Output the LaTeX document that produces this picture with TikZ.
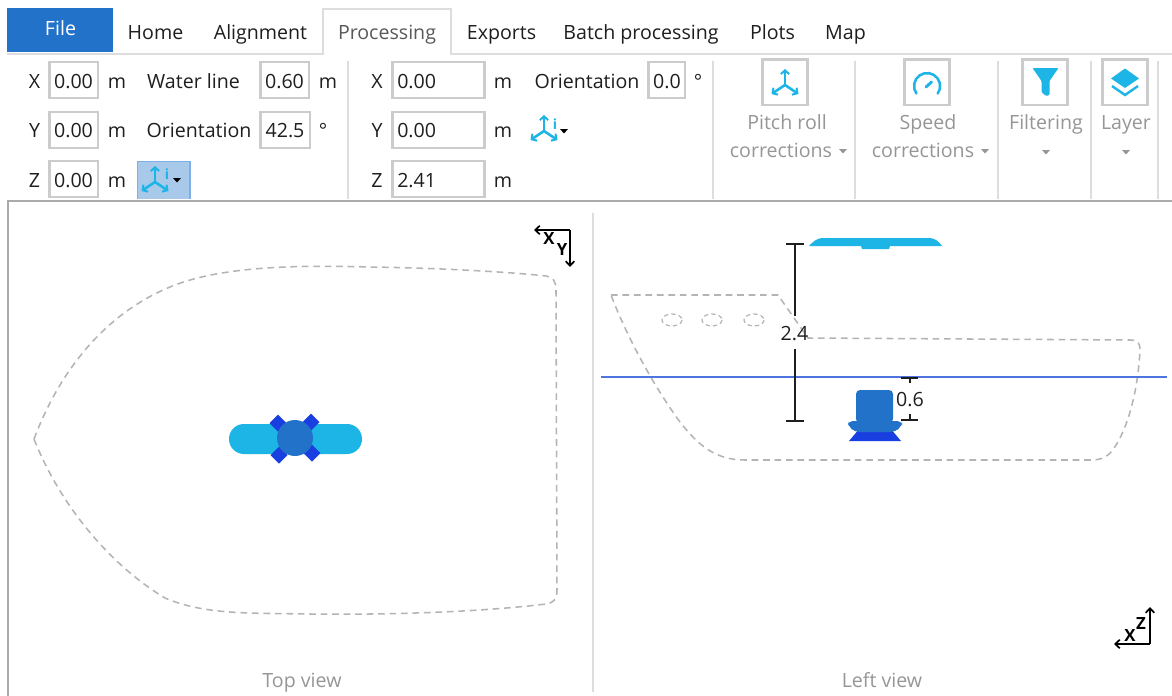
\documentclass[tikz,border=0pt]{standalone}
\usepackage{fontspec}
\setmainfont{Open Sans}
\usetikzlibrary{arrows.meta}
\definecolor{fileblue}{HTML}{2272CA}
\definecolor{cyanblue}{HTML}{1CB5E6}
\definecolor{deepblue}{HTML}{1A3FE0}
\definecolor{waterblue}{HTML}{4F74E0}
\definecolor{boxgray}{HTML}{CCCCCC}
\definecolor{sepgray}{HTML}{DDDDDD}
\definecolor{framegray}{HTML}{ABABAB}
\definecolor{hullgray}{HTML}{B4B4B4}
\definecolor{mutedtext}{HTML}{969696}
\definecolor{darktext}{HTML}{1E1E1E}
\definecolor{btnfill}{HTML}{A9C9EB}
\definecolor{btnedge}{HTML}{7FB0E5}
\tikzset{
  lbl/.style={anchor=base,inner sep=0pt,text=darktext,font=\fontsize{14.7}{17}\selectfont},
  lblw/.style={lbl,anchor=base west},
  muted/.style={lbl,text=mutedtext},
  tab/.style={lbl,text=darktext},
  inbox/.style={draw=boxgray,line width=1.8pt,fill=white},
  sep/.style={draw=sepgray,line width=1.5pt},
  hull/.style={draw=hullgray,line width=1.15pt,dash pattern=on 5pt off 3.6pt},
  dim/.style={draw=darktext,line width=1.5pt},
  axisarrow/.style={draw=black,line width=1.35pt,-{Straight Barb[length=3.4pt,width=6.4pt,line width=1.3pt]}},
  axislbl/.style={anchor=center,inner sep=0pt,font=\fontsize{12.6}{15}\selectfont\bfseries,text=black},
  iconarrow/.style={draw=cyanblue,line width=1.9pt,-{Straight Barb[length=2.8pt,width=6.2pt,line width=1.5pt]}},
  iconi/.style={anchor=center,inner sep=0pt,text=cyanblue,font=\fontsize{10.5}{11}\selectfont\bfseries}
}
\newcommand{\triaxis}[2]{%
  \draw[iconarrow] (#1,#2) -- (#1,#2-16);
  \draw[iconarrow] (#1,#2) -- (#1-13.5,#2+9);
  \draw[iconarrow] (#1,#2) -- (#1+13.5,#2+9);
}
\newcommand{\droparrow}[3]{%
  \fill[#3] (#1-4,#2-2) -- (#1+4,#2-2) -- (#1,#2+2.5) -- cycle;
}
\begin{document}
\begin{tikzpicture}[x=0.75pt,y=-0.75pt]
\useasboundingbox (0,0) rectangle (1172,696);
\fill[white] (0,0) rectangle (1172,696);
% tab strip
\draw[sepgray,line width=1.5pt] (7,53.5) -- (323,53.5) -- (323,9) -- (451,9) -- (451,53.5) -- (1172,53.5);
\fill[fileblue] (7,8) rectangle (113,52);
\node[lbl,text=white] (tfile) at (60.5,36) {File};
\node[tab] (thome) at (155.5,39.5) {Home};
\node[tab] (talign) at (260.5,39.5) {Alignment};
\node[tab,text=black!65] (tproc) at (387,39.5) {Processing};
\node[tab] (texp) at (501.5,39.5) {Exports};
\node[tab] (tbatch) at (641,39.5) {Batch processing};
\node[tab] (tplots) at (772.5,39.5) {Plots};
\node[tab] (tmap) at (845.5,39.5) {Map};
% separators
\foreach \sx in {348,713,855,998,1091,1158}{\draw[sep] (\sx,61) -- (\sx,199);}
% first group
\foreach \by/\nm in {62/a,112/b,161/c}{\draw[inbox] (49.5,\by) rectangle (98,\by+36);}
\draw[inbox] (260.5,62) rectangle (309,98);
\draw[inbox] (260.5,112) rectangle (310,148);
\node[lbl] (lx1) at (34.5,88) {X};
\node[lbl] (ly1) at (34.5,137.5) {Y};
\node[lbl] (lz1) at (34.5,187.5) {Z};
\node[lbl] (vx1) at (73.5,88) {0.00};
\node[lbl] (vy1) at (73.5,137.5) {0.00};
\node[lbl] (vz1) at (73.5,187.5) {0.00};
\node[lbl] (mx1) at (117,88) {m};
\node[lbl] (my1) at (117,137.5) {m};
\node[lbl] (mz1) at (117,187.5) {m};
\node[lbl] (lwl) at (193.5,88) {Water line};
\node[lbl] (lor1) at (199,137.5) {Orientation};
\node[lbl] (vwl) at (284.5,88) {0.60};
\node[lbl] (vor1) at (285,137.5) {42.5};
\node[lbl] (mwl) at (328,88) {m};
\node[lbl] (dor1) at (323,137.5) {°};
\fill[btnfill] (137,161) rectangle (190,199);
\draw[btnedge,line width=1pt] (137.5,199) -- (137.5,161.5) -- (190,161.5) -- (190,199);
\triaxis{155}{182}
\node[iconi] (ii1) at (167,174) {i};
\droparrow{177}{180}{black}
% second group
\foreach \by in {62,112,161}{\draw[inbox] (392.5,\by) rectangle (484.5,\by+36);}
\draw[inbox] (648.5,62) rectangle (685,98);
\node[lbl] (lx2) at (377,88) {X};
\node[lbl] (ly2) at (377,137.5) {Y};
\node[lbl] (lz2) at (377,187.5) {Z};
\node[lblw] (vx2) at (397,88) {0.00};
\node[lblw] (vy2) at (397,137.5) {0.00};
\node[lblw] (vz2) at (397,187.5) {2.41};
\node[lbl] (mx2) at (503,88) {m};
\node[lbl] (my2) at (503,137.5) {m};
\node[lbl] (mz2) at (503,187.5) {m};
\node[lbl] (lor2) at (587,88) {Orientation};
\node[lbl] (vor2) at (667,88) {0.0};
\node[lbl] (dor2) at (698,88) {°};
\triaxis{544}{131}
\node[iconi] (ii2) at (555,124) {i};
\droparrow{564}{131}{black}
% command buttons
\foreach \bx in {762,904,1022,1102}{\draw[inbox] (\bx.5,59.5) rectangle (\bx.5+45,105);}
\triaxis{785}{85}
\draw[cyanblue,line width=1.9pt,line cap=round] (916.4,93.5) arc[start angle=145,end angle=395,radius=13];
\draw[cyanblue,line width=2.2pt,line cap=round] (926,87) -- (931.5,82);
\fill[cyanblue,rounded corners=0.8pt] (1032.5,68) -- (1058.5,68) -- (1049.5,81) -- (1049.5,95) -- (1046,96) -- (1041.5,92) -- (1041.5,81) -- cycle;
\fill[cyanblue] (1125,68.5) -- (1139,78.5) -- (1125,88) -- (1111,78.5) -- cycle;
\draw[cyanblue,line width=1.8pt] (1112,86) -- (1125,95) -- (1138,86);
\node[muted] (lp1) at (787,129) {Pitch roll};
\node[muted] (lp2) at (781,157) {corrections};
\droparrow{843}{151}{mutedtext}
\node[muted] (ls1) at (928,129) {Speed};
\node[muted] (ls2) at (923,157) {corrections};
\droparrow{985}{151}{mutedtext}
\node[muted] (lf1) at (1046,129) {Filtering};
\droparrow{1046}{152}{mutedtext}
\node[muted] (ll1) at (1126,129) {Layer};
\droparrow{1126}{152}{mutedtext}
% frame
\draw[framegray,line width=1.5pt] (8,696) -- (8,200.5) -- (1172,200.5);
\draw[sepgray,line width=1.5pt] (593,213) -- (593,692);
% top view hull
\draw[hull] (34,439) .. controls (62,365) and (110,310) .. (175,285)
  .. controls (225,266) and (300,265) .. (370,267)
  .. controls (440,268) and (510,272) .. (546,276)
  .. controls (553,277) and (556,281) .. (556,290)
  -- (557,590) .. controls (557,600) and (553,603) .. (546,604)
  .. controls (480,612) and (390,615) .. (310,614)
  .. controls (250,613) and (205,615) .. (165,598)
  .. controls (110,565) and (60,505) .. (34,439);
% top view sensor
\fill[cyanblue,rounded corners=11.2pt] (229,424) rectangle (362,454);
\foreach \cx/\cy in {278/423,311/422,279/455,312/453}{\fill[deepblue] (\cx-8.5,\cy) -- (\cx,\cy-8.5) -- (\cx+8.5,\cy) -- (\cx,\cy+8.5) -- cycle;}
\fill[fileblue] (295,438) circle[radius=18];
% left view hull
\draw[hull] (611,295) -- (778,295) -- (808,338) -- (1130,340)
  .. controls (1138,340) and (1140,343) .. (1140,350)
  .. controls (1138,390) and (1128,430) .. (1112,451)
  .. controls (1106,458) and (1100,460) .. (1090,460)
  -- (745,460) .. controls (715,460) and (698,445) .. (680,422)
  .. controls (660,395) and (630,345) .. (611,295);
\foreach \px in {672,712,754}{\draw[hull,line width=0.9pt,dash pattern=on 3.2pt off 2.4pt] (\px,320) ellipse[x radius=10,y radius=6];}
\draw[waterblue,line width=1.3pt] (601,377) -- (1167,377);
% left view sensors
\fill[cyanblue] (809,246) .. controls (813,242) and (816,238) .. (824,238) -- (928,238) .. controls (936,238) and (939,242) .. (942,246) -- (890,246) -- (889,249) -- (862,249) -- (861,246) -- cycle;
\fill[fileblue,rounded corners=3pt] (856,423) -- (856,390) -- (893,390) -- (893,423) -- cycle;
\fill[deepblue] (849,441) -- (860,428) -- (890,428) -- (901,441) -- cycle;
\fill[fileblue,rounded corners=3.5pt] (848,421) -- (902,421) -- (902,426) -- (895,432) -- (855,432) -- (848,426) -- cycle;
% dimensions
\draw[dim] (786,244) -- (804,244);
\draw[dim] (795,244) -- (795,316);
\draw[dim] (795,349) -- (795,421);
\draw[dim] (786,421) -- (804,421);
\node[lbl] (d24) at (794.5,340) {2.4};
\draw[dim] (901,378) -- (918,378);
\draw[dim] (909.5,378) -- (909.5,383);
\draw[dim] (909.5,414) -- (909.5,420);
\draw[dim] (901,420) -- (918,420);
\node[lbl] (d06) at (910,406) {0.6};
% axes
\coordinate (xyo) at (570,230);
\coordinate (xyx) at (534,230);
\coordinate (xyy) at (570,267);
\draw[axisarrow] (xyo) -- (xyx);
\draw[axisarrow] (xyo) -- (xyy);
\node[axislbl] (axx) at (549,239) {X};
\node[axislbl] (axy) at (562,250) {Y};
\coordinate (xzo) at (1150,644);
\coordinate (xzx) at (1114,644);
\coordinate (xzz) at (1150,607);
\draw[axisarrow] (xzo) -- (xzx);
\draw[axisarrow] (xzo) -- (xzz);
\node[axislbl] (azx) at (1130,635) {X};
\node[axislbl] (azz) at (1141,623) {Z};
% captions
\node[muted] (ctop) at (302,687) {Top view};
\node[muted] (cleft) at (882,687) {Left view};
\end{tikzpicture}
\end{document}
